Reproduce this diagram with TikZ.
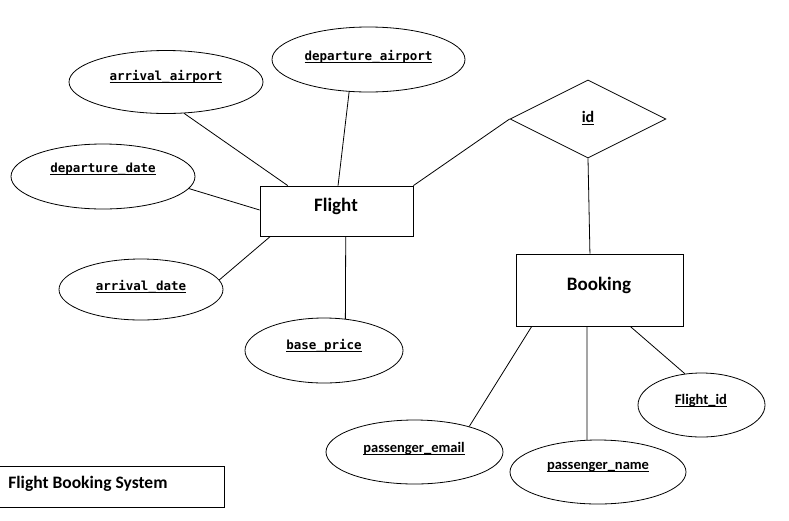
\documentclass[tikz,border=0pt]{standalone}
\usepackage{fontspec}
\setmainfont{Carlito}
\newfontfamily\monof{DejaVu Sans Mono}
\usetikzlibrary{shapes.geometric,calc}
\newcommand{\myul}[1]{\setbox0\hbox{#1}\rlap{\rule[-2.6pt]{\wd0}{1.1pt}}\box0}
\tikzset{
  attr/.style={ellipse, draw, inner sep=0pt},
  ent/.style={rectangle, draw, inner sep=0pt},
  rel/.style={diamond, draw, inner sep=0pt, aspect=2},
  lbl/.style={font=\bfseries\fontsize{14.5}{17}\selectfont, inner sep=0pt},
  mlbl/.style={font=\monof\bfseries\fontsize{12.5}{15}\selectfont, inner sep=0pt},
  big/.style={font=\bfseries\fontsize{19}{22}\selectfont, inner sep=0pt},
  conn/.style={line width=0.8pt}
}
\begin{document}
\begin{tikzpicture}[x=1pt,y=-1pt,line width=0.8pt]
\useasboundingbox (0,0) rectangle (789,520);
% entities
\node[ent, minimum width=153pt, minimum height=50pt] (fl) at (336.5,211) {};
\node[big] (flt) at (336,206.5) {Flight};
\node[ent, minimum width=167pt, minimum height=72pt] (bk) at (599.5,290) {};
\node[big] (bkt) at (599,285.5) {Booking};
% relationship
\node[rel, minimum width=156pt, minimum height=78pt] (id) at (588,119) {};
\node[lbl, font=\bfseries\fontsize{16}{19}\selectfont] (idt) at (588,118.5) {\myul{id}};
% attributes of Flight
\node[attr, minimum width=194pt, minimum height=63pt] (aa) at (166,82) {};
\node[mlbl] (aat) at (166,76.5) {\myul{arrival\_airport}};
\node[attr, minimum width=193pt, minimum height=65pt] (da) at (368.5,59.5) {};
\node[mlbl] (dat) at (368.5,56.5) {\myul{departure\_airport}};
\node[attr, minimum width=184pt, minimum height=65pt] (dd) at (103,176.5) {};
\node[mlbl] (ddt) at (103,169.5) {\myul{departure\_date}};
\node[attr, minimum width=164pt, minimum height=61pt] (ad) at (141,289.5) {};
\node[mlbl] (adt) at (141,286.5) {\myul{arrival\_date}};
\node[attr, minimum width=158pt, minimum height=65pt] (bp) at (324,350.5) {};
\node[mlbl] (bpt) at (324,345.5) {\myul{base\_price}};
% attributes of Booking
\node[attr, minimum width=127pt, minimum height=64pt] (fi) at (701.5,405) {};
\node[lbl] (fit) at (701,400.5) {\myul{Flight\_id}};
\node[attr, minimum width=177pt, minimum height=64pt] (pe) at (414.5,452) {};
\node[lbl] (pet) at (414,448.5) {\myul{passenger\_email}};
\node[attr, minimum width=176pt, minimum height=64pt] (pn) at (598,472) {};
\node[lbl] (pnt) at (598,467.5) {\myul{passenger\_name}};
% title
\node[ent, minimum width=225pt, minimum height=41pt, anchor=north west] (tb) at (-1,466) {};
\node[big, font=\bfseries\fontsize{17.5}{20}\selectfont, anchor=west] (tt) at (8,484) {Flight Booking System};
% connectors
\draw[conn] (aa.-60) -- ($(fl.north west)!0.183!(fl.north east)$);
\draw[conn] (da.-121) -- ($(fl.north west)!0.51!(fl.north east)$);
\draw[conn] (dd.-8) -- ($(fl.north west)!0.48!(fl.south west)$);
\draw[conn] (ad.7) -- ($(fl.south west)!0.07!(fl.south east)$);
\draw[conn] (bp.56) -- ($(fl.south west)!0.56!(fl.south east)$);
\draw[conn] (fl.north east) -- (id.west);
\draw[conn] (id.south) -- ($(bk.north west)!0.443!(bk.north east)$);
\draw[conn] ($(bk.south west)!0.096!(bk.south east)$) -- (pe.25);
\draw[conn] ($(bk.south west)!0.425!(bk.south east)$) -- (pn.109);
\draw[conn] ($(bk.south west)!0.683!(bk.south east)$) -- (fi.118);
\end{tikzpicture}
\end{document}
